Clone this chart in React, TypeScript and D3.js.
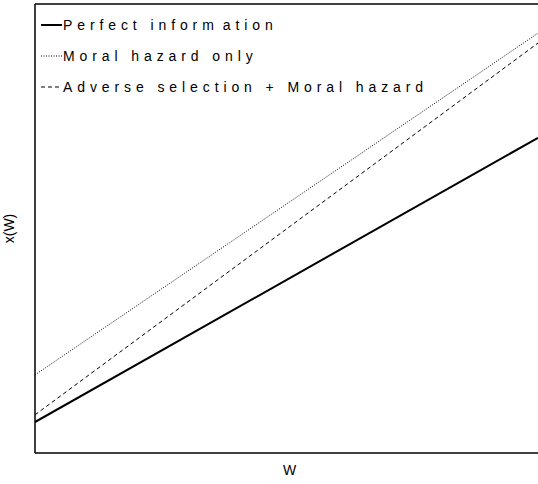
import React from "react";
import * as d3 from "d3";

const W = [0, 1];
const perfectInfo = [0.069, 0.702];
const moralHazardOnly = [0.174, 0.935];
const adverseMoral = [0.085, 0.913];

const seriesNames = ["Perfect information", "Moral hazard only", "Adverse selection + Moral hazard"];
const seriesDash = ["none", "1,1.5", "4,3"];
const seriesWidth = [2, 1, 1];

export default function App() {
  const width = 538, height = 484;
  const left = 35, right = 538, top = 4, bottom = 453;
  const x = d3.scaleLinear().domain([0, 1]).range([left, right]);
  const y = d3.scaleLinear().domain([0, 1]).range([bottom, top]);
  const line = d3.line<[number, number]>().x(d => x(d[0])).y(d => y(d[1]));
  const series = [perfectInfo, moralHazardOnly, adverseMoral];
  const legendY = [25, 56, 87];
  const font = "Liberation Sans, Arial, sans-serif";
  return (
    <svg width={width} height={height} style={{ position: "absolute", left: 0, top: 0, background: "#fff" }}>
      <rect x={0} y={0} width={width} height={height} fill="#fff" />
      <defs>
        <clipPath id="clip"><rect x={left} y={top} width={right - left} height={bottom - top} /></clipPath>
      </defs>
      <g clipPath="url(#clip)">
        {series.map((s, i) => (
          <path key={i} d={line(W.map((w, j) => [w, s[j]]) as [number, number][]) || ""}
            fill="none" stroke="#000" strokeWidth={seriesWidth[i]}
            strokeDasharray={seriesDash[i]} />
        ))}
      </g>
      <line x1={left} x2={left} y1={top} y2={bottom} stroke="#000" strokeWidth={1.5} />
      <line x1={left} x2={width} y1={top} y2={top} stroke="#000" strokeWidth={1.5} />
      <line x1={left} x2={width} y1={bottom} y2={bottom} stroke="#000" strokeWidth={1.5} />
      {seriesNames.map((n, i) => (
        <g key={n}>
          <line x1={41} x2={62} y1={legendY[i]} y2={legendY[i]} stroke="#000"
            strokeWidth={seriesWidth[i]} strokeDasharray={seriesDash[i]} />
          <text x={63} y={legendY[i]} dy="0.36em" fontFamily={font} fontSize={14}
            letterSpacing={4.9} fill="#000">
            {i === 0 ? (<>{"Perfect inform"}<tspan dx={4}>{"ation"}</tspan></>) : n}
          </text>
        </g>
      ))}
      <text x={(left + right) / 2 + 3} y={475} textAnchor="middle" fontFamily={font} fontSize={14}>W</text>
      <text transform={`translate(14,${(top + bottom) / 2}) rotate(-90)`} textAnchor="middle"
        fontFamily={font} fontSize={14}>x(W)</text>
    </svg>
  );
}
